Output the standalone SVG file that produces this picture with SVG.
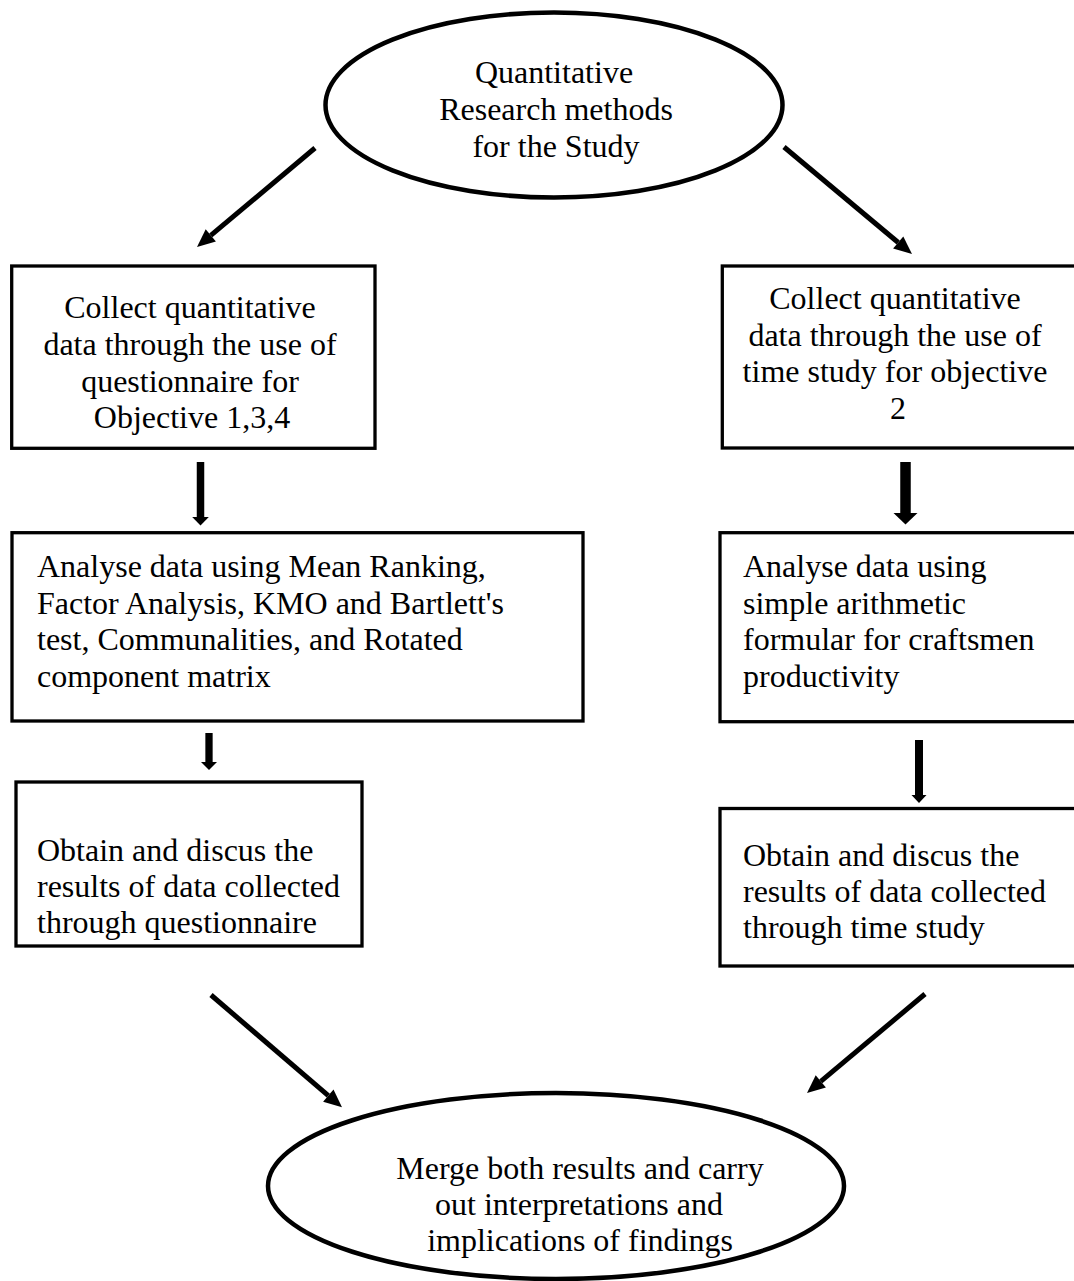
<svg xmlns="http://www.w3.org/2000/svg" width="1074" height="1281" viewBox="0 0 1074 1281">
<style>
  .box { fill: #fff; stroke: #000; stroke-width: 3.3; }
  .ell { fill: #fff; stroke: #000; stroke-width: 4.5; }
  .t { font-family: "Liberation Serif", "Times New Roman", serif; font-size: 32px; fill: #000; }
  .c { text-anchor: middle; }
  .shaft { stroke: #000; fill: none; stroke-linecap: butt; }
  .head { fill: #000; stroke: none; }
</style>
<rect width="1074" height="1281" fill="#fff"/>
<g id="connectors">
  <line class="shaft" x1="315" y1="148" x2="210.8" y2="235.4" stroke-width="5"/>
  <polygon class="head" points="197,247 205.7,229.3 215.9,241.5"/>
  <line class="shaft" x1="784" y1="147" x2="898.2" y2="242.5" stroke-width="5"/>
  <polygon class="head" points="912,254 893.1,248.6 903.3,236.4"/>
  <line class="shaft" x1="200.5" y1="462" x2="200.5" y2="517" stroke-width="7.5"/>
  <polygon class="head" points="200.5,525.5 192.2,517 208.8,517"/>
  <line class="shaft" x1="905.5" y1="462" x2="905.5" y2="513" stroke-width="10.5"/>
  <polygon class="head" points="905.5,524.5 893.5,513 917.5,513"/>
  <line class="shaft" x1="209" y1="733" x2="209" y2="762" stroke-width="7.3"/>
  <polygon class="head" points="209,770 201,762 217,762"/>
  <line class="shaft" x1="919" y1="740" x2="919" y2="795" stroke-width="8"/>
  <polygon class="head" points="919,803 911.5,795 926.5,795"/>
  <line class="shaft" x1="211" y1="995" x2="328.3" y2="1095.6" stroke-width="5"/>
  <polygon class="head" points="342,1107.3 323.1,1101.7 333.5,1089.6"/>
  <line class="shaft" x1="925" y1="994" x2="820.8" y2="1081.4" stroke-width="5"/>
  <polygon class="head" points="807,1093 815.7,1075.3 825.9,1087.5"/>
</g>
<g id="node-start">
  <ellipse class="ell" cx="554" cy="105" rx="228.5" ry="92.5"/>
  <text class="t c" x="554" y="83">Quantitative</text>
  <text class="t c" x="556" y="120">Research methods</text>
  <text class="t c" x="556" y="157">for the Study</text>
</g>
<g id="node-collect-q">
  <rect class="box" x="11.7" y="266" width="363.3" height="182.3"/>
  <text class="t c" x="190" y="318">Collect quantitative</text>
  <text class="t c" x="190" y="355">data through the use of</text>
  <text class="t c" x="190" y="391.5">questionnaire for</text>
  <text class="t c" x="192" y="428">Objective 1,3,4</text>
</g>
<g id="node-collect-t">
  <rect class="box" x="722.3" y="266" width="370" height="182"/>
  <text class="t c" x="895" y="309">Collect quantitative</text>
  <text class="t c" x="895" y="345.5">data through the use of</text>
  <text class="t c" x="895" y="382">time study for objective</text>
  <text class="t c" x="898" y="418.5">2</text>
</g>
<g id="node-analyse-q">
  <rect class="box" x="12" y="532.7" width="571" height="188.3"/>
  <text class="t" x="37" y="577">Analyse data using Mean Ranking,</text>
  <text class="t" x="37" y="613.5">Factor Analysis, KMO and Bartlett's</text>
  <text class="t" x="37" y="650">test, Communalities, and Rotated</text>
  <text class="t" x="37" y="686.5">component matrix</text>
</g>
<g id="node-analyse-t">
  <rect class="box" x="720" y="532.7" width="372" height="189"/>
  <text class="t" x="743" y="577">Analyse data using</text>
  <text class="t" x="743" y="613.5">simple arithmetic</text>
  <text class="t" x="743" y="650">formular for craftsmen</text>
  <text class="t" x="743" y="686.5">productivity</text>
</g>
<g id="node-results-q">
  <rect class="box" x="16" y="782" width="346" height="164"/>
  <text class="t" x="37" y="861">Obtain and discus the</text>
  <text class="t" x="37" y="897">results of data collected</text>
  <text class="t" x="37" y="933">through questionnaire</text>
</g>
<g id="node-results-t">
  <rect class="box" x="720" y="808.5" width="372" height="157.5"/>
  <text class="t" x="743" y="866">Obtain and discus the</text>
  <text class="t" x="743" y="902">results of data collected</text>
  <text class="t" x="743" y="938">through time study</text>
</g>
<g id="node-merge">
  <ellipse class="ell" cx="556" cy="1186" rx="288" ry="93"/>
  <text class="t c" x="580" y="1179">Merge both results and carry</text>
  <text class="t c" x="579" y="1215">out interpretations and</text>
  <text class="t c" x="580" y="1251">implications of findings</text>
</g>
</svg>
